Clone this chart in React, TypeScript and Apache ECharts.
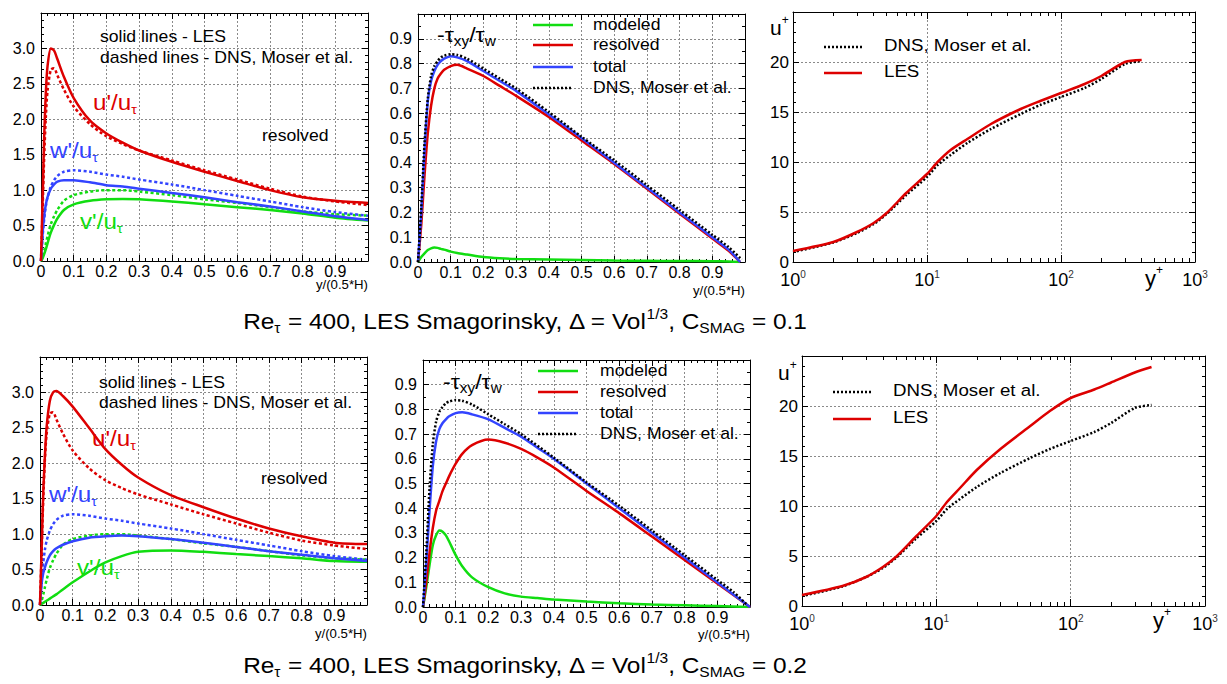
import React, { useEffect, useRef } from 'react';
import * as echarts from 'echarts';

// ---------- DATA ----------
// wall-normal positions y/(0.5*H) for rms profiles
const yRms = [0, 0.005, 0.01, 0.015, 0.02, 0.03, 0.04, 0.05, 0.07, 0.1, 0.15, 0.2, 0.25, 0.3, 0.4, 0.5, 0.6, 0.7, 0.8, 0.9, 1.0];
// DNS (Moser et al.) rms profiles
const uDns = [0, 0.75, 1.5, 2.05, 2.4, 2.7, 2.72, 2.62, 2.42, 2.18, 1.93, 1.76, 1.65, 1.56, 1.42, 1.28, 1.15, 1.02, 0.91, 0.84, 0.79];
const wDns = [0, 0.35, 0.6, 0.78, 0.9, 1.05, 1.14, 1.2, 1.26, 1.28, 1.26, 1.22, 1.19, 1.15, 1.08, 1.0, 0.92, 0.84, 0.76, 0.69, 0.64];
const vDns = [0, 0.06, 0.15, 0.25, 0.35, 0.52, 0.63, 0.72, 0.85, 0.93, 0.98, 1.0, 1.0, 0.98, 0.93, 0.87, 0.82, 0.76, 0.7, 0.66, 0.64];
// LES, C_SMAG = 0.1
const uLes1 = [0, 0.9, 1.8, 2.4, 2.75, 3.0, 2.97, 2.85, 2.6, 2.3, 1.98, 1.8, 1.67, 1.56, 1.4, 1.26, 1.13, 1.0, 0.9, 0.85, 0.82];
const wLes1 = [0, 0.4, 0.65, 0.8, 0.9, 1.02, 1.08, 1.12, 1.14, 1.14, 1.11, 1.07, 1.05, 1.02, 0.96, 0.9, 0.83, 0.77, 0.7, 0.63, 0.58];
const vLes1 = [0, 0.04, 0.1, 0.17, 0.25, 0.4, 0.51, 0.6, 0.72, 0.8, 0.85, 0.87, 0.875, 0.87, 0.84, 0.8, 0.76, 0.72, 0.67, 0.61, 0.57];
// LES, C_SMAG = 0.2
const uLes2 = [0, 0.8, 1.6, 2.1, 2.5, 2.88, 3.0, 3.02, 2.95, 2.8, 2.5, 2.2, 1.98, 1.8, 1.55, 1.38, 1.22, 1.08, 0.97, 0.88, 0.86];
const wLes2 = [0, 0.3, 0.45, 0.53, 0.6, 0.7, 0.76, 0.8, 0.85, 0.9, 0.95, 0.97, 0.98, 0.97, 0.93, 0.88, 0.82, 0.76, 0.71, 0.66, 0.62];
const vLes2 = [0, 0.015, 0.03, 0.045, 0.06, 0.09, 0.12, 0.15, 0.22, 0.32, 0.47, 0.6, 0.69, 0.75, 0.77, 0.75, 0.72, 0.69, 0.66, 0.62, 0.61];

// shear stress -tau_xy/tau_w
const yStressDns = [0, 0.01, 0.02, 0.03, 0.04, 0.05, 0.06, 0.07, 0.08, 0.1, 0.12, 0.15, 0.2, 0.25, 0.3, 0.4, 0.5, 0.6, 0.7, 0.8, 0.9, 0.95, 0.99];
const stressDns = [0, 0.22, 0.48, 0.66, 0.75, 0.79, 0.81, 0.825, 0.832, 0.838, 0.835, 0.82, 0.78, 0.74, 0.7, 0.605, 0.505, 0.41, 0.31, 0.21, 0.11, 0.06, 0.01];
const yStress1 = [0, 0.01, 0.02, 0.03, 0.04, 0.05, 0.06, 0.07, 0.08, 0.1, 0.12, 0.15, 0.2, 0.25, 0.3, 0.4, 0.5, 0.6, 0.7, 0.8, 0.9, 0.95, 0.985];
const total1 = [0, 0.2, 0.45, 0.65, 0.73, 0.77, 0.795, 0.81, 0.82, 0.83, 0.825, 0.81, 0.77, 0.73, 0.69, 0.595, 0.5, 0.4, 0.3, 0.2, 0.1, 0.05, 0.0];
const resolved1 = [0, 0.15, 0.35, 0.52, 0.63, 0.7, 0.74, 0.76, 0.775, 0.79, 0.795, 0.78, 0.75, 0.71, 0.67, 0.585, 0.49, 0.395, 0.295, 0.195, 0.095, 0.045, 0.0];
const modeled1 = [0, 0.02, 0.035, 0.048, 0.055, 0.058, 0.057, 0.053, 0.05, 0.042, 0.036, 0.03, 0.02, 0.015, 0.012, 0.01, 0.008, 0.006, 0.005, 0.004, 0.003, 0.002, 0.0];
const yStress2 = [0, 0.01, 0.02, 0.03, 0.04, 0.05, 0.06, 0.07, 0.08, 0.1, 0.12, 0.15, 0.2, 0.25, 0.3, 0.35, 0.4, 0.5, 0.6, 0.7, 0.8, 0.9, 1.0];
const total2 = [0, 0.18, 0.39, 0.57, 0.67, 0.72, 0.745, 0.76, 0.772, 0.785, 0.788, 0.78, 0.76, 0.725, 0.69, 0.645, 0.6, 0.5, 0.4, 0.3, 0.2, 0.1, 0.0];
const resolved2 = [0, 0.1, 0.22, 0.32, 0.39, 0.43, 0.47, 0.5, 0.53, 0.58, 0.62, 0.655, 0.678, 0.665, 0.64, 0.605, 0.565, 0.47, 0.38, 0.285, 0.19, 0.095, 0.0];
const modeled2 = [0, 0.08, 0.17, 0.25, 0.29, 0.31, 0.305, 0.29, 0.265, 0.21, 0.165, 0.12, 0.08, 0.055, 0.042, 0.036, 0.03, 0.022, 0.015, 0.01, 0.007, 0.004, 0.0];

// mean velocity u+ vs y+
const yPlus = [1, 2, 3, 4, 5, 7, 10, 12, 15, 20, 30, 50, 70, 100, 150, 200, 300, 400];
const uPlusDns = [1.0, 1.95, 2.9, 3.8, 4.8, 6.7, 8.5, 9.7, 10.7, 11.9, 13.3, 14.8, 15.7, 16.5, 17.4, 18.3, 19.8, 20.1];
const uPlusLes1 = [1.1, 2.0, 3.0, 3.9, 4.9, 6.9, 8.8, 10.0, 11.2, 12.3, 13.8, 15.3, 16.1, 16.9, 17.8, 18.6, 20.0, 20.2];
const uPlusLes2 = [1.1, 2.0, 2.9, 3.9, 4.9, 6.9, 9.0, 10.4, 11.8, 13.6, 15.7, 18.0, 19.5, 20.8, 21.65, 22.35, 23.35, 23.9];

const legendStress = ['modeled', 'resolved', 'total', 'DNS, Moser et al.'];
const legendVel = ['DNS, Moser et al.', 'LES'];
const cSmag = ['0.1', '0.2'];
// minor tick values on the log axes
const logMinor = [2, 3, 4, 5, 6, 7, 8, 9, 20, 30, 40, 50, 60, 70, 80, 90, 200, 300, 400, 500, 600, 700, 800, 900];

// ---------- STYLE ----------
const FONT = "'Liberation Sans', Arial, Helvetica, sans-serif";
const RED = '#dd0000';
const GREEN = '#11dd11';
const BLUE = '#3344ff';
const BLACK = '#000000';

const GRIDS = [
  { left: 41, top: 13, width: 327, height: 248 },
  { left: 418, top: 14, width: 327, height: 248 },
  { left: 793, top: 12, width: 402, height: 250 },
  { left: 40, top: 357, width: 327, height: 248 },
  { left: 423, top: 360, width: 327, height: 247 },
  { left: 802, top: 356, width: 403, height: 250 },
];

const zip = (xs: number[], ys: number[]) => xs.map((x, i) => [x, ys[i]]);

export default function App() {
  const ref = useRef<HTMLDivElement>(null);

  useEffect(() => {
    if (!ref.current) return;
    const chart = echarts.init(ref.current, null, { renderer: 'svg' });

    const xAxes: any[] = [];
    const yAxes: any[] = [];
    const series: any[] = [];
    const graphics: any[] = [];

    const tickLine = { color: BLACK, width: 1 };
    const split = { show: true, lineStyle: { color: '#8a8a8a', width: 1, type: [2, 2] } };

    const linAxis = (g: number, pos: string, min: number, max: number, interval: number, minorN: number, fmt: any, fontSize: number, margin: number) => {
      const main = pos === 'bottom' || pos === 'left';
      return {
        type: 'value', gridIndex: g, position: pos, min, max, interval,
        axisLine: { show: true, onZero: false, lineStyle: { color: BLACK, width: 1 } },
        axisTick: { show: true, inside: true, length: 6, lineStyle: tickLine },
        minorTick: { show: true, splitNumber: minorN, length: 3, lineStyle: tickLine },
        axisLabel: main ? { show: true, formatter: fmt, color: BLACK, fontSize, fontFamily: FONT, margin, showMinLabel: true, showMaxLabel: true } : { show: false },
        splitLine: main ? split : { show: false },
        minorSplitLine: { show: false },
      };
    };

    const addLinGrid = (g: number, xMin: number, xMax: number, xInt: number, xMinor: number, xFmt: any,
      yMin: number, yMax: number, yInt: number, yMinor: number, yFmt: any, fs: number) => {
      const xi = xAxes.length;
      xAxes.push(linAxis(g, 'bottom', xMin, xMax, xInt, xMinor, xFmt, fs, 2));
      xAxes.push(linAxis(g, 'top', xMin, xMax, xInt, xMinor, xFmt, fs, 2));
      const yi = yAxes.length;
      yAxes.push(linAxis(g, 'left', yMin, yMax, yInt, yMinor, yFmt, fs, 6));
      yAxes.push(linAxis(g, 'right', yMin, yMax, yInt, yMinor, yFmt, fs, 6));
      return { xi, yi };
    };

    const addLogGrid = (g: number) => {
      const xi = xAxes.length;
      const logAx = (pos: string) => ({
        type: 'log', logBase: 10, gridIndex: g, position: pos, min: 1, max: 1000,
        axisLine: { show: true, onZero: false, lineStyle: { color: BLACK, width: 1 } },
        axisTick: { show: true, inside: true, length: 7, lineStyle: tickLine },
        axisLabel: pos === 'bottom' ? {
          show: true, margin: 7, color: BLACK,
          formatter: (v: number) => `{b|10}{s|${Math.round(Math.log10(v))}}`,
          rich: {
            b: { fontSize: 18, fontFamily: FONT, color: BLACK, lineHeight: 20, verticalAlign: 'bottom' },
            s: { fontSize: 10, fontFamily: FONT, color: '#333', lineHeight: 10, verticalAlign: 'top' },
          },
        } : { show: false },
        splitLine: pos === 'bottom' ? split : { show: false },
      });
      xAxes.push(logAx('bottom'));
      xAxes.push(logAx('top'));
      const minorAx = (pos: string) => ({
        type: 'log', logBase: 10, gridIndex: g, position: pos, min: 1, max: 1000,
        axisLine: { show: false, onZero: false },
        axisTick: { show: true, inside: true, length: 4, lineStyle: tickLine, customValues: logMinor },
        axisLabel: { show: false },
        splitLine: { show: false },
      });
      xAxes.push(minorAx('bottom'));
      xAxes.push(minorAx('top'));
      const yi = yAxes.length;
      const yFmt = (v: number) => (v >= 24 ? '' : String(v));
      yAxes.push(linAxis(g, 'left', 0, 25, 5, 5, yFmt, 17, 4));
      yAxes.push(linAxis(g, 'right', 0, 25, 5, 5, yFmt, 17, 4));
      return { xi, yi };
    };

    const addLine = (xi: number, yi: number, xs: number[], ys: number[], color: string, type: any, z: number, width = 2.5) => {
      series.push({
        type: 'line', xAxisIndex: xi, yAxisIndex: yi, data: zip(xs, ys),
        showSymbol: false, symbol: 'none', smooth: 0.25,
        lineStyle: { color, width, type }, z, silent: true, clip: true,
      });
    };

    const txt = (x: number, y: number, text: string, opts: any = {}) => {
      graphics.push({
        type: 'text', x, y, z: 100, silent: true, scaleX: opts.sx || 1,
        style: {
          text, fill: opts.fill || BLACK, fontSize: opts.fontSize || 15, fontFamily: FONT,
          textAlign: opts.align || 'left', textVerticalAlign: 'middle', rich: opts.rich,
        },
      });
    };
    const rich = (big: number, small: number, color: string) => ({
      a: { fontSize: big, fontFamily: FONT, fill: color, lineHeight: big + 6, verticalAlign: 'middle' },
      s: { fontSize: small, fontFamily: FONT, fill: color, lineHeight: small, verticalAlign: 'bottom' },
      p: { fontSize: small, fontFamily: FONT, fill: color, lineHeight: small, verticalAlign: 'top' },
    });
    const hline = (x1: number, x2: number, y: number, color: string, dash: any) => {
      graphics.push({
        type: 'line', silent: true, z: 100,
        shape: { x1, y1: y, x2, y2: y },
        style: { stroke: color, lineWidth: 2.5, lineDash: dash },
      });
    };

    const fmtX = (v: number) => (v === 0 ? '0' : v > 0.95 ? '' : v.toFixed(1));
    const fmtYL = (v: number) => (v > 3.4 ? '' : v.toFixed(1));
    const fmtYM = (v: number) => (v > 0.95 ? '' : v.toFixed(1));

    for (let row = 0; row < 2; row++) {
      const gL = row * 3, gM = row * 3 + 1, gR = row * 3 + 2;
      const uL = row === 0 ? uLes1 : uLes2;
      const wL = row === 0 ? wLes1 : wLes2;
      const vL = row === 0 ? vLes1 : vLes2;

      // ---- left: rms profiles
      const a = addLinGrid(gL, 0, 1, 0.1, 5, fmtX, 0, 3.5, 0.5, 5, fmtYL, 16);
      addLine(a.xi, a.yi, yRms, vDns, GREEN, [3, 2.5], 3);
      addLine(a.xi, a.yi, yRms, wDns, BLUE, [3, 2.5], 3);
      addLine(a.xi, a.yi, yRms, uDns, RED, [3, 2.5], 3);
      addLine(a.xi, a.yi, yRms, vL, GREEN, 'solid', 4);
      addLine(a.xi, a.yi, yRms, wL, BLUE, 'solid', 4);
      addLine(a.xi, a.yi, yRms, uL, RED, 'solid', 4);

      // ---- middle: shear stress
      const b = addLinGrid(gM, 0, 1, 0.1, 5, fmtX, 0, 1, 0.1, 2, fmtYM, 16);
      const ys = row === 0 ? yStress1 : yStress2;
      addLine(b.xi, b.yi, ys, row === 0 ? modeled1 : modeled2, GREEN, 'solid', 3);
      addLine(b.xi, b.yi, ys, row === 0 ? resolved1 : resolved2, RED, 'solid', 3);
      addLine(b.xi, b.yi, ys, row === 0 ? total1 : total2, BLUE, 'solid', 3);
      addLine(b.xi, b.yi, yStressDns, stressDns, BLACK, [2, 2], 4);

      // ---- right: mean velocity
      const c = addLogGrid(gR);
      addLine(c.xi, c.yi, yPlus, uPlusDns, BLACK, [2, 2], 3);
      addLine(c.xi, c.yi, yPlus, row === 0 ? uPlusLes1 : uPlusLes2, RED, 'solid', 4);
    }

    const SX = 1.1;
    for (let row = 0; row < 2; row++) {
      const L = row === 0 ? { ux: 93, uy: 102, wx: 50, wy: 150, vx: 80, vy: 221, ry: 136 }
        : { ux: 92, uy: 438, wx: 49, wy: 494, vx: 77, vy: 567, ry: 479 };
      const dx = row === 0 ? 0 : -1;
      txt(100 + dx, 37 + (row === 0 ? 0 : 346), 'solid lines - LES', { fontSize: 16, sx: SX });
      txt(100 + dx, 58 + (row === 0 ? 0 : 345), 'dashed lines - DNS, Moser et al.', { fontSize: 16, sx: SX });
      txt(L.ux, L.uy, "{a|u'/u}{s|τ}", { rich: rich(22, 13, RED), sx: SX });
      txt(L.wx, L.wy, "{a|w'/u}{s|τ}", { rich: rich(22, 13, BLUE), sx: SX });
      txt(L.vx, L.vy, "{a|v'/u}{s|τ}", { rich: rich(22, 13, GREEN), sx: SX });
      txt(262 + dx, L.ry, 'resolved', { fontSize: 16, sx: SX });
      txt(368 + dx, row === 0 ? 285 : 634, 'y/(0.5*H)', { fontSize: 12, align: 'right', sx: SX });

      // middle panel
      const mx = row === 0 ? 0 : 5;
      const my = row === 0 ? [25, 45, 67, 88] : [371, 392, 413, 434];
      txt(437 + mx + (row === 0 ? 0 : 1), row === 0 ? 35 : 382, '{a|-τ}{s|xy}{a|/τ}{s|w}', { rich: rich(21, 14, BLACK), sx: SX });
      const cols = [GREEN, RED, BLUE];
      for (let i = 0; i < 4; i++) {
        if (i < 3) hline(533 + mx, 573 + mx, my[i], cols[i], null);
        else hline(533 + mx, 573 + mx, my[i], BLACK, [2, 2]);
        txt(593 + mx + (row === 0 ? 0 : 2), my[i], legendStress[i], { fontSize: 16, sx: SX });
      }
      txt(745 + mx, row === 0 ? 291 : 635, 'y/(0.5*H)', { fontSize: 12, align: 'right', sx: SX });

      // right panel
      const rx = row === 0 ? 0 : 9;
      const ry = row === 0 ? [47, 73] : [392, 419];
      hline(824 + rx, 862 + rx, ry[0], BLACK, [2, 2]);
      hline(824 + rx, 862 + rx, ry[1], RED, null);
      txt(884 + rx, ry[0] - 2, legendVel[0], { fontSize: 17, sx: SX });
      txt(884 + rx, ry[1] - 2, legendVel[1], { fontSize: 17, sx: SX });
      txt(row === 0 ? 770 : 778, row === 0 ? 27 : 372, '{a|u}{p|+}', { rich: rich(21, 12, BLACK) });
      txt(row === 0 ? 1145 : 1153, row === 0 ? 278 : 620, '{a|y}{p|+}', { rich: rich(22, 12, BLACK) });

      // figure caption
      txt(525, row === 0 ? 321 : 665,
        `{a|Re}{s|τ}{a| = 400, LES Smagorinsky, Δ = Vol}{p|1/3}{a|, C}{s|SMAG}{a| = ${cSmag[row]}}`,
        { align: 'center', rich: rich(22, 14, BLACK), sx: 1.11 });
    }

    chart.setOption({
      animation: false,
      backgroundColor: '#ffffff',
      grid: GRIDS.map((g) => ({ ...g, containLabel: false, show: false })),
      xAxis: xAxes,
      yAxis: yAxes,
      series,
      graphic: graphics,
    });

    return () => chart.dispose();
  }, []);

  return (
    <div
      ref={ref}
      style={{ position: 'absolute', left: 0, top: 0, width: 1227, height: 684, background: '#fff' }}
    />
  );
}
